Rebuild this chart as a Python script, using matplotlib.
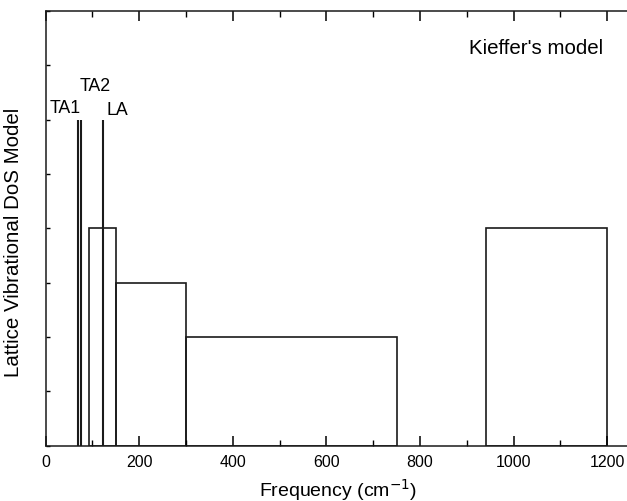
import numpy as np
import matplotlib.pyplot as plt
from matplotlib.ticker import MultipleLocator, NullFormatter

plt.rcParams['font.family'] = ['Liberation Sans', 'DejaVu Sans']

# acoustic branches (delta functions)
mode_names = ['TA1', 'TA2', 'LA']
mode_freq = [70, 75, 122]
mode_height = [6, 6, 6]

# box continua of Kieffer's model
box_start = [92, 150, 300, 940]
box_end = [150, 300, 750, 1200]
box_height = [4, 3, 2, 4]

fig = plt.figure(figsize=(6.27, 5.02), dpi=100)
ax = fig.add_axes([0.0728, 0.110, 0.933, 0.866])

widths = [e - s for s, e in zip(box_start, box_end)]
ax.bar(box_start, box_height, width=widths, align='edge', fill=False,
       edgecolor='#1a1a1a', linewidth=1.2)

ax.vlines(mode_freq, 0, mode_height, colors='#1a1a1a', linewidth=1.5)

ax.text(9, 6.22, 'TA1', fontsize=12.8, va='center', ha='left')
ax.text(73, 6.63, 'TA2', fontsize=12.8, va='center', ha='left')
ax.text(129, 6.19, 'LA', fontsize=12.8, va='center', ha='left')
ax.text(904, 7.33, "Kieffer's model", fontsize=14.8, va='center', ha='left')

ax.set_xlim(0, 1250)
ax.set_ylim(0, 8)
ax.spines['right'].set_visible(False)
for s in ['left', 'bottom', 'top']:
    ax.spines[s].set_linewidth(1.1)
    ax.spines[s].set_color('#1a1a1a')

ax.xaxis.set_major_locator(MultipleLocator(200))
ax.xaxis.set_minor_locator(MultipleLocator(100))
ax.yaxis.set_major_locator(MultipleLocator(1))
ax.yaxis.set_major_formatter(NullFormatter())
ax.tick_params(axis='x', which='major', direction='in', length=7, width=1.1,
               top=True, labelsize=11.5, pad=6)
ax.tick_params(axis='x', which='minor', direction='in', length=4, width=1.0, top=True)
ax.tick_params(axis='y', which='major', direction='in', length=3, width=1.0, right=False)

ax.set_xlabel('Frequency (cm$^{-1}$)', fontsize=14, labelpad=5)
ax.set_ylabel('Lattice Vibrational DoS Model', fontsize=14.8)
ax.yaxis.set_label_coords(-0.039, 0.47)

fig.savefig('out.png', dpi=100)
